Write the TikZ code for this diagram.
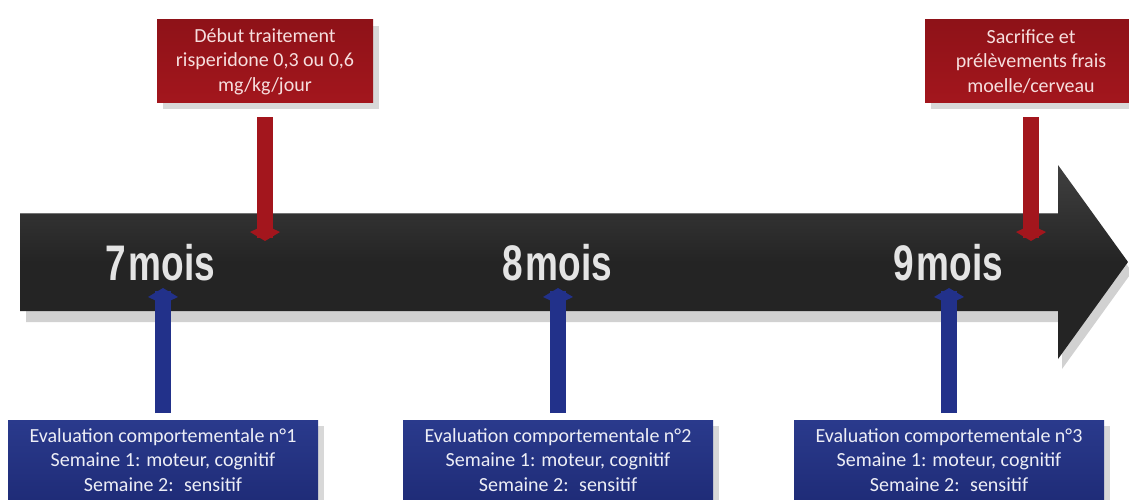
\documentclass[tikz,border=0pt]{standalone}
\usepackage{fontspec}
\usepackage{graphicx}
\setmainfont{Carlito}
\newfontfamily\monthfont{Liberation Sans Bold}
\usetikzlibrary{arrows.meta,shadows}
\definecolor{boxred}{HTML}{A3161D}
\definecolor{boxredtop}{HTML}{8E1218}
\definecolor{boxblue}{HTML}{1F2C78}
\definecolor{boxbluetop}{HTML}{2A3A8C}
\definecolor{arrowblack}{HTML}{242424}
\definecolor{arrowred}{HTML}{A3161D}
\definecolor{arrowblue}{HTML}{22318A}
\definecolor{monthgray}{HTML}{E4E4E4}
\definecolor{redtext}{HTML}{F6DEDE}
\definecolor{bluetext}{HTML}{EDEEF6}
\newcommand{\narrowmonth}[1]{\scalebox{0.74}[1]{#1}}
\tikzset{
  boxshadow/.style={drop shadow={opacity=0.25,shadow xshift=6pt,shadow yshift=-6pt,fill=black!60}},
  redbox/.style={top color=boxredtop,bottom color=boxred,text=redtext,align=center,
     font=\fontsize{20}{24.5}\selectfont,inner xsep=0pt,inner ysep=8pt,boxshadow},
  bluebox/.style={top color=boxbluetop,bottom color=boxblue,text=bluetext,align=center,
     font=\fontsize{20}{24.5}\selectfont,inner xsep=0pt,inner ysep=8pt,minimum width=310pt,boxshadow},
  month/.style={text=monthgray,font=\monthfont\fontsize{50}{50}\selectfont,inner sep=0pt},
  redarrow/.style={draw=arrowred,line width=16pt,shorten <=14pt,-{Kite[length=16pt,width=30pt,inset=7pt]}},
  bluearrow/.style={draw=arrowblue,line width=16pt,shorten <=7pt,-{Kite[length=16pt,width=30pt,inset=7pt]}}
}
\begin{document}
\begin{tikzpicture}[x=1pt,y=-1pt]
\useasboundingbox (0,0) rectangle (1129,500);
\clip (0,0) rectangle (1129,500);
\fill[white] (0,0) rectangle (1129,500);
% big timeline arrow: shadow then body
\fill[black!18] (26,222) -- (1062,222) -- (1062,175) -- (1132,272) -- (1062,369) -- (1062,322) -- (26,322) -- cycle;
\shade[top color=black!75!white,bottom color=arrowblack,middle color=arrowblack]
  (20,213) -- (1058,213) -- (1058,165) -- (1128,262) -- (1058,359) -- (1058,311) -- (20,311) -- cycle;
\draw[black!55,line width=1pt] (20,213.5) -- (1058,213.5);
% month labels
\node[month] (m7) at (160,263) {\narrowmonth{7\hspace{4pt}mois}};
\node[month] (m8) at (557,263) {\narrowmonth{8\hspace{4pt}mois}};
\node[month] (m9) at (948,263) {\narrowmonth{9\hspace{4pt}mois}};
% red boxes
\node[redbox,minimum width=216pt,minimum height=83pt] (r1) at (265,61.5)
  {Début traitement\\risperidone 0,3 ou 0,6\\mg/kg/jour};
\node[redbox,minimum width=212pt,minimum height=83pt] (r2) at (1031,61.5)
  {Sacrifice et\\prélèvements frais\\moelle/cerveau};
% blue boxes
\node[bluebox,anchor=north] (b1) at (163,420)
  {Evaluation comportementale n°1\\Semaine 1: moteur, cognitif\\Semaine 2:~ sensitif};
\node[bluebox,anchor=north] (b2) at (558,420)
  {Evaluation comportementale n°2\\Semaine 1: moteur, cognitif\\Semaine 2:~ sensitif};
\node[bluebox,anchor=north] (b3) at (949,420)
  {Evaluation comportementale n°3\\Semaine 1: moteur, cognitif\\Semaine 2:~ sensitif};
% arrow targets
\coordinate (tr1) at (265,241);
\coordinate (tr2) at (1031,241);
\coordinate (tb1) at (163,288);
\coordinate (tb2) at (558,288);
\coordinate (tb3) at (949,288);
% connectors
\draw[redarrow] (r1.south) -- (tr1);
\draw[redarrow] (r2.south -| tr2) -- (tr2);
\draw[bluearrow] (b1.north -| tb1) -- (tb1);
\draw[bluearrow] (b2.north -| tb2) -- (tb2);
\draw[bluearrow] (b3.north -| tb3) -- (tb3);
\end{tikzpicture}
\end{document}
